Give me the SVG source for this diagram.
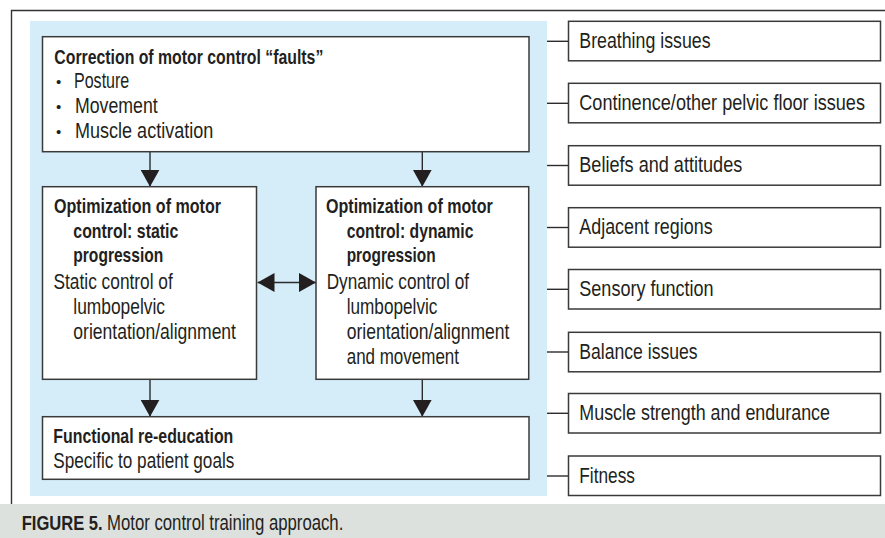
<svg xmlns="http://www.w3.org/2000/svg" width="885" height="538" viewBox="0 0 885 538">
<style>
text{font-family:"Liberation Sans",Arial,sans-serif;font-size:21.5px;fill:#231f20}
.b{font-weight:bold;font-size:21px}
.bul{font-size:15px}
.box{fill:#fff;stroke:#3a3a3a;stroke-width:1.5}
.ln{stroke:#2b2b2b;stroke-width:1.4;fill:none}
</style>
<defs>
<marker id="ah" viewBox="0 0 17 19" refX="17" refY="9.5" markerWidth="17" markerHeight="19" markerUnits="userSpaceOnUse" orient="auto-start-reverse">
<path d="M0,0 L17,9.5 L0,19 z" fill="#231f20"/>
</marker>
</defs>
<rect x="0" y="0" width="885" height="538" fill="#fff"/>
<rect x="0" y="504" width="885" height="34" fill="#dde1de"/>
<path d="M885,10.5 H11.5 V504" fill="none" stroke="#333" stroke-width="1.4"/>
<rect x="30" y="21" width="517" height="475" fill="#d5ecf9"/>

<g id="connectors">
<line class="ln" x1="150" y1="151.7" x2="150" y2="186.7" marker-end="url(#ah)"/>
<line class="ln" x1="422.3" y1="151.7" x2="422.3" y2="186.7" marker-end="url(#ah)"/>
<line class="ln" x1="257.5" y1="282.5" x2="316" y2="282.5" marker-start="url(#ah)" marker-end="url(#ah)"/>
<line class="ln" x1="150" y1="379.3" x2="150" y2="416.7" marker-end="url(#ah)"/>
<line class="ln" x1="422.3" y1="379.3" x2="422.3" y2="416.7" marker-end="url(#ah)"/>
<line class="ln" x1="547" y1="41.3" x2="568.5" y2="41.3"/>
<line class="ln" x1="547" y1="103.3" x2="568.5" y2="103.3"/>
<line class="ln" x1="547" y1="165.5" x2="568.5" y2="165.5"/>
<line class="ln" x1="547" y1="227.5" x2="568.5" y2="227.5"/>
<line class="ln" x1="547" y1="289.3" x2="568.5" y2="289.3"/>
<line class="ln" x1="547" y1="352" x2="568.5" y2="352"/>
<line class="ln" x1="547" y1="413.3" x2="568.5" y2="413.3"/>
<line class="ln" x1="547" y1="476" x2="568.5" y2="476"/>
</g>

<g id="correction">
<rect class="box" x="42.5" y="36.7" width="486.5" height="115"/>
<text class="b" x="54.3" y="64" textLength="269" lengthAdjust="spacingAndGlyphs">Correction of motor control “faults”</text>
<text class="bul" x="56" y="87">•</text>
<text x="74" y="88.3" textLength="55.3" lengthAdjust="spacingAndGlyphs">Posture</text>
<text class="bul" x="56" y="112">•</text>
<text x="75" y="113.3" textLength="82.7" lengthAdjust="spacingAndGlyphs">Movement</text>
<text class="bul" x="56" y="137">•</text>
<text x="75" y="138.3" textLength="138.3" lengthAdjust="spacingAndGlyphs">Muscle activation</text>
</g>

<g id="static">
<rect class="box" x="42.5" y="186.7" width="214" height="192.6"/>
<text class="b" x="54" y="213.3" textLength="167" lengthAdjust="spacingAndGlyphs">Optimization of motor</text>
<text class="b" x="73.3" y="237.8" textLength="105" lengthAdjust="spacingAndGlyphs">control: static</text>
<text class="b" x="73.3" y="262.3" textLength="90" lengthAdjust="spacingAndGlyphs">progression</text>
<text x="53.5" y="289" textLength="119.3" lengthAdjust="spacingAndGlyphs">Static control of</text>
<text x="73.3" y="314" textLength="91.7" lengthAdjust="spacingAndGlyphs">lumbopelvic</text>
<text x="73.3" y="339" textLength="162.7" lengthAdjust="spacingAndGlyphs">orientation/alignment</text>
</g>

<g id="dynamic">
<rect class="box" x="316" y="186.7" width="212.7" height="192.6"/>
<text class="b" x="326" y="213.3" textLength="166.7" lengthAdjust="spacingAndGlyphs">Optimization of motor</text>
<text class="b" x="346.7" y="237.8" textLength="126.7" lengthAdjust="spacingAndGlyphs">control: dynamic</text>
<text class="b" x="346.7" y="262.3" textLength="89" lengthAdjust="spacingAndGlyphs">progression</text>
<text x="326.7" y="289" textLength="142.3" lengthAdjust="spacingAndGlyphs">Dynamic control of</text>
<text x="346.7" y="314" textLength="90.7" lengthAdjust="spacingAndGlyphs">lumbopelvic</text>
<text x="346.7" y="339" textLength="162.7" lengthAdjust="spacingAndGlyphs">orientation/alignment</text>
<text x="346.7" y="364" textLength="112.3" lengthAdjust="spacingAndGlyphs">and movement</text>
</g>

<g id="functional">
<rect class="box" x="42.5" y="416.7" width="486.5" height="62.6"/>
<text class="b" x="53.3" y="442.7" textLength="180" lengthAdjust="spacingAndGlyphs">Functional re-education</text>
<text x="53.3" y="467.5" textLength="181" lengthAdjust="spacingAndGlyphs">Specific to patient goals</text>
</g>

<g id="breathing">
<rect class="box" x="568.5" y="21.3" width="312" height="39.5"/>
<text x="579.3" y="48" textLength="131.3" lengthAdjust="spacingAndGlyphs">Breathing issues</text>
</g>
<g id="continence">
<rect class="box" x="568.5" y="83.3" width="312" height="39.5"/>
<text transform="translate(579.3,110) scale(0.85,1)" x="0" y="0" textLength="336.1" lengthAdjust="spacingAndGlyphs">Continence/other pelvic floor issues</text>
</g>
<g id="beliefs">
<rect class="box" x="568.5" y="145.7" width="312" height="39.5"/>
<text x="579.3" y="172" textLength="163" lengthAdjust="spacingAndGlyphs">Beliefs and attitudes</text>
</g>
<g id="adjacent">
<rect class="box" x="568.5" y="207.7" width="312" height="39.5"/>
<text x="579.3" y="234" textLength="133.3" lengthAdjust="spacingAndGlyphs">Adjacent regions</text>
</g>
<g id="sensory">
<rect class="box" x="568.5" y="269.5" width="312" height="39.5"/>
<text x="579.3" y="296" textLength="134.3" lengthAdjust="spacingAndGlyphs">Sensory function</text>
</g>
<g id="balance">
<rect class="box" x="568.5" y="332.3" width="312" height="39.5"/>
<text x="579.3" y="358.5" textLength="118.3" lengthAdjust="spacingAndGlyphs">Balance issues</text>
</g>
<g id="strength">
<rect class="box" x="568.5" y="393.5" width="312" height="39.5"/>
<text x="579.3" y="420" textLength="250.7" lengthAdjust="spacingAndGlyphs">Muscle strength and endurance</text>
</g>
<g id="fitness">
<rect class="box" x="568.5" y="456" width="312" height="39.5"/>
<text x="579.3" y="482.5" textLength="55.7" lengthAdjust="spacingAndGlyphs">Fitness</text>
</g>

<g id="caption">
<text class="b" transform="translate(21.7,530) scale(0.79,1)" x="0" y="0" textLength="102.5" lengthAdjust="spacingAndGlyphs">FIGURE 5.</text>
<text transform="translate(107,530) scale(0.78,1)" x="0" y="0" textLength="303" lengthAdjust="spacingAndGlyphs">Motor control training approach.</text>
</g>
</svg>
